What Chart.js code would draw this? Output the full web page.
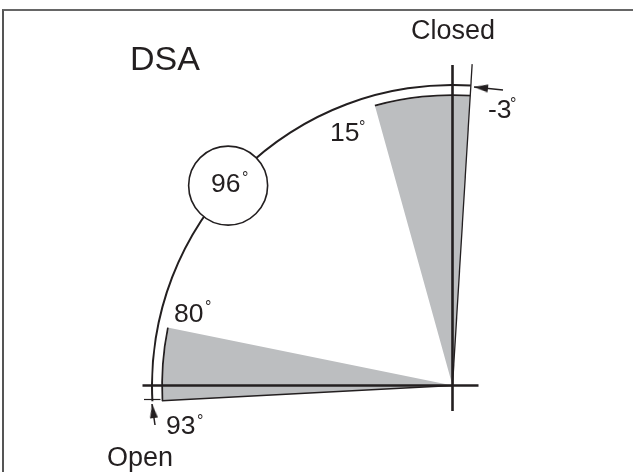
<!DOCTYPE html>
<html>
<head>
<meta charset="utf-8">
<title>DSA</title>
<script src="https://cdn.jsdelivr.net/npm/chart.js@4/dist/chart.umd.min.js"></script>
<style>
    html, body { margin: 0; background: #fff; }
    #page { position: relative; width: 633px; height: 472px; overflow: hidden; }
    #frame { position: absolute; left: 2px; top: 9px; right: 0; bottom: 0; border-left: 2px solid #555; border-top: 2px solid #666; }
    #chartSectors { position: absolute; left: 151px; top: 84px; }
    #chartLines { position: absolute; left: 0; top: 0; }
</style>
</head>
<body>
<div id="page">
    <div id="frame"></div>
    <canvas id="chartSectors" width="603" height="603"></canvas>
    <canvas id="chartLines" width="633" height="472"></canvas>
</div>
<script>
// sector edges as drawn, degrees left of the vertical (open -> closed)
const sectorEdges = [93, 78.5, 15.5, -3.5];
const circleAngle = 48.3;

// ring widths from the outside in: outer arc, gap, dark rim, gray fill
const ringWeights = [2, 8.2, 1.8, 289.5];

const horizontalAxis = [{ x: -310, y: 0 }, { x: 26, y: 0 }];
const verticalAxis = [{ x: 0, y: -25.5 }, { x: 0, y: 320.5 }];
const openTick = [{ x: -308.5, y: -14 }, { x: -292, y: -14 }];
const closedArrow = [{ x: 50.5, y: 295.5 }, { x: 21.5, y: 298.5 }];
const openArrow = [{ x: -297.5, y: -39.5 }, { x: -300.5, y: -18.5 }];
const arrowHeads = [{ x: 28.5, y: 297.8 }, { x: -299.5, y: -25.5 }];
const arrowRotations = [-84, -8];

const titleTexts = ["DSA", "Closed", "Open"];
const angleTexts = ["-3", "15", "96", "80", "93"];

const DARK = "#231f20";
const GRAY = "#bcbec0";
const CLEAR = "rgba(0,0,0,0)";

function polar(deg, r) {
    const rad = deg * Math.PI / 180;
    return { x: -r * Math.sin(rad), y: r * Math.cos(rad) };
}

function makeArrowHead() {
    const c = document.createElement("canvas");
    c.width = 8;
    c.height = 14;
    const ctx = c.getContext("2d");
    ctx.fillStyle = DARK;
    ctx.beginPath();
    ctx.moveTo(4, 0);
    ctx.lineTo(8, 14);
    ctx.lineTo(0, 14);
    ctx.closePath();
    ctx.fill();
    return c;
}

function loadSectorChart() {
    const spans = sectorEdges.slice(1).map((edge, i) => sectorEdges[i] - edge);
    const total = sectorEdges[0] - sectorEdges[3];
    const rest = 360 - total;

    new Chart(document.getElementById("chartSectors"), {
        type: "doughnut",
        data: {
            datasets: [
                { data: [total, rest], backgroundColor: [DARK, CLEAR], weight: ringWeights[0] },
                { data: [360], backgroundColor: [CLEAR], weight: ringWeights[1] },
                { data: [...spans, rest], backgroundColor: [DARK, CLEAR, DARK, CLEAR], weight: ringWeights[2] },
                { data: [...spans, rest], backgroundColor: [GRAY, CLEAR, GRAY, CLEAR], weight: ringWeights[3] }
            ]
        },
        options: {
            responsive: false,
            animation: false,
            events: [],
            cutout: 0,
            rotation: -sectorEdges[0],
            elements: { arc: { borderWidth: 0 } },
            plugins: { legend: { display: false }, tooltip: { enabled: false } }
        }
    });
}

function lineSet(data, width) {
    return { data, showLine: true, borderColor: DARK, borderWidth: width, pointRadius: 0, borderCapStyle: "butt" };
}

// x, baseline, font size
const titlePlaces = [[130, 70, 34], [411, 39, 27], [107, 466, 27]];
// x, baseline, degree sign x, degree sign baseline
const anglePlaces = [
    [488, 118, 510, 109],
    [330, 141, 359, 132],
    [211, 192, 242, 183],
    [174, 322, 205, 312],
    [166, 434, 197, 426]
];

const textPlugin = {
    id: "diagramText",
    afterDatasetsDraw(chart) {
        const ctx = chart.ctx;
        ctx.save();
        ctx.fillStyle = DARK;
        ctx.textBaseline = "alphabetic";
        ctx.textAlign = "left";
        titleTexts.forEach((t, i) => {
            const [x, y, size] = titlePlaces[i];
            ctx.font = `${size}px "Liberation Sans"`;
            ctx.fillText(t, x, y);
        });
        angleTexts.forEach((t, i) => {
            const [x, y, dx, dy] = anglePlaces[i];
            ctx.font = '26.5px "Liberation Sans"';
            ctx.fillText(t, x, y);
            ctx.font = '16px "Liberation Sans"';
            ctx.fillText("°", dx, dy);
        });
        ctx.restore();
    }
};

function loadLineChart() {
    const openEdge = sectorEdges[0];
    const closedEdge = sectorEdges[3];
    new Chart(document.getElementById("chartLines"), {
        type: "scatter",
        data: {
            datasets: [
                lineSet(horizontalAxis, 2.6),
                lineSet(verticalAxis, 2.6),
                lineSet([{ x: 0, y: 0 }, polar(closedEdge, 322)], 1.3),
                lineSet([{ x: 0, y: 0 }, polar(openEdge, 291)], 1.3),
                lineSet(openTick, 1.2),
                lineSet(closedArrow, 1.5),
                lineSet(openArrow, 1.5),
                {
                    data: arrowHeads,
                    showLine: false,
                    pointStyle: makeArrowHead(),
                    pointRadius: 7,
                    pointRotation: arrowRotations
                },
                {
                    data: [polar(circleAngle, 300.5)],
                    showLine: false,
                    pointStyle: "circle",
                    pointRadius: 39.5,
                    pointBackgroundColor: "#fff",
                    pointBorderColor: DARK,
                    pointBorderWidth: 1.6
                }
            ]
        },
        options: {
            responsive: false,
            animation: false,
            events: [],
            layout: { padding: 0, autoPadding: false },
            clip: false,
            scales: {
                x: { type: "linear", display: false, bounds: "data", min: -452.5, max: 180.5 },
                y: { type: "linear", display: false, bounds: "data", min: -86.5, max: 385.5 }
            },
            plugins: { legend: { display: false }, tooltip: { enabled: false } }
        },
        plugins: [textPlugin]
    });
}

loadSectorChart();
loadLineChart();
</script>
</body>
</html>
